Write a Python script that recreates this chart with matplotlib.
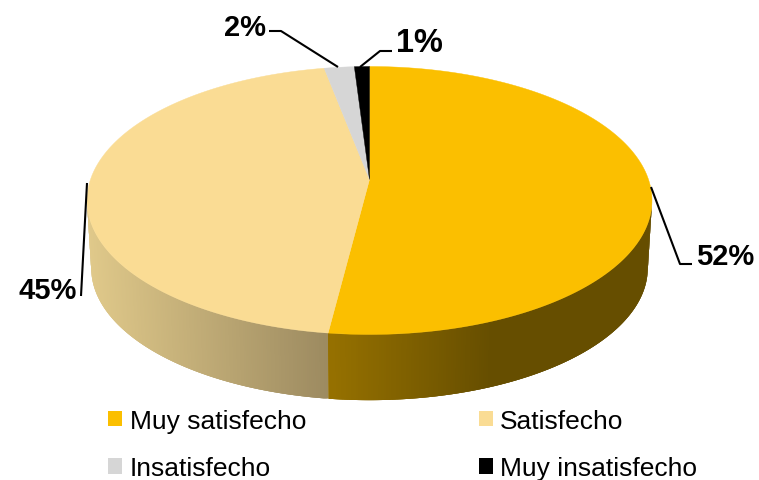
import numpy as np
import matplotlib
matplotlib.use("Agg")
import matplotlib.pyplot as plt
from matplotlib.patches import Patch
from matplotlib.collections import PolyCollection
from matplotlib.colors import to_rgb

labels = ["Muy satisfecho", "Satisfecho", "Insatisfecho", "Muy insatisfecho"]
values = [52, 45, 2, 1]
pct_labels = ["52%", "45%", "2%", "1%"]
pct_sizes = [21, 21, 21, 23.5]
colors = ["#FBBF00", "#FADC94", "#D6D6D6", "#000000"]

plt.rcParams["font.family"] = ["Liberation Sans", "DejaVu Sans"]
fig = plt.figure(figsize=(7.59, 4.81), dpi=100)
ax = fig.add_axes([0, 0, 1, 1])
ax.set_xlim(0, 759)
ax.set_ylim(481, 0)
ax.axis("off")

CX, CY = 369.5, 180.5
A, B, K = 279.0, 130.7, 0.1567
DEPTH, SHRINK = 68.0, 0.985


def project(t, scale=1.0, dy=0.0):
    u, v = np.sin(t), np.cos(t)
    w = 1 + K * v
    return CX + scale * A * u / w, CY + dy - scale * B * v / w


def lerp_color(x, x0, c0, x1, c1):
    f = np.clip((x - x0) / (x1 - x0), 0, 1)
    a, b = np.array(to_rgb(c0)), np.array(to_rgb(c1))
    return tuple(a + (b - a) * f)


cum = np.cumsum([0] + values) / sum(values) * 2 * np.pi

# side walls: strips overlap their neighbour so that no seams show
walls = [
    (np.radians(99), cum[1], 327, "#967100", 490, "#664E00"),
    (cum[1], np.radians(261), 87, "#E0C98A", 327, "#9C8A60"),
]
for t0, t1, x0, c0, x1, c1 in walls[::-1]:
    ts = np.linspace(t0, t1, 200)
    step = ts[1] - ts[0]
    polys, cols = [], []
    for a in ts[:-1]:
        b = min(a + 3 * step, t1)
        xa, ya = project(a)
        xb, yb = project(b)
        xc, yc = project(b, SHRINK, DEPTH)
        xd, yd = project(a, SHRINK, DEPTH)
        polys.append([(xa, ya), (xb, yb), (xc, yc), (xd, yd)])
        cols.append(lerp_color((xa + xb) / 2, x0, c0, x1, c1))
    ax.add_collection(PolyCollection(polys, facecolors=cols, edgecolors="none", linewidths=0))

# top face
for i, c in enumerate(colors):
    ts = np.linspace(cum[i], cum[i + 1], 200)
    xs, ys = project(ts)
    ax.fill(np.r_[CX, xs], np.r_[CY, ys], color=c, lw=0.3, zorder=3)

# leader lines
leaders = [
    ([651, 680, 692], [188, 265, 265]),
    ([87, 81], [184, 297]),
    ([269, 281, 338], [32, 32, 68]),
    ([392, 380, 360], [52, 52, 68]),
]
for lx, ly in leaders:
    ax.plot(lx, ly, color="black", lw=1.5, zorder=4, solid_capstyle="butt")

label_pos = [(725, 257), (48, 291), (245, 27.5), (419, 44)]
for s, fs, (x, y) in zip(pct_labels, pct_sizes, label_pos):
    ax.text(x, y, s, ha="center", va="center", fontsize=fs, fontweight="bold", color="black", zorder=5)

handles = [Patch(facecolor=c, edgecolor="none", label=l) for c, l in zip(colors, labels)]
order = [0, 2, 1, 3]
ax.legend(
    [handles[i] for i in order], [labels[i] for i in order],
    ncol=2, loc="upper left", bbox_to_anchor=(108.5 / 759, 1 - 410 / 481),
    frameon=False, fontsize=19, handlelength=0.53, handleheight=0.53,
    handletextpad=0.27, labelspacing=0.89, columnspacing=6.55,
    borderpad=0, borderaxespad=0,
)
fig.savefig("out.png", dpi=100)
